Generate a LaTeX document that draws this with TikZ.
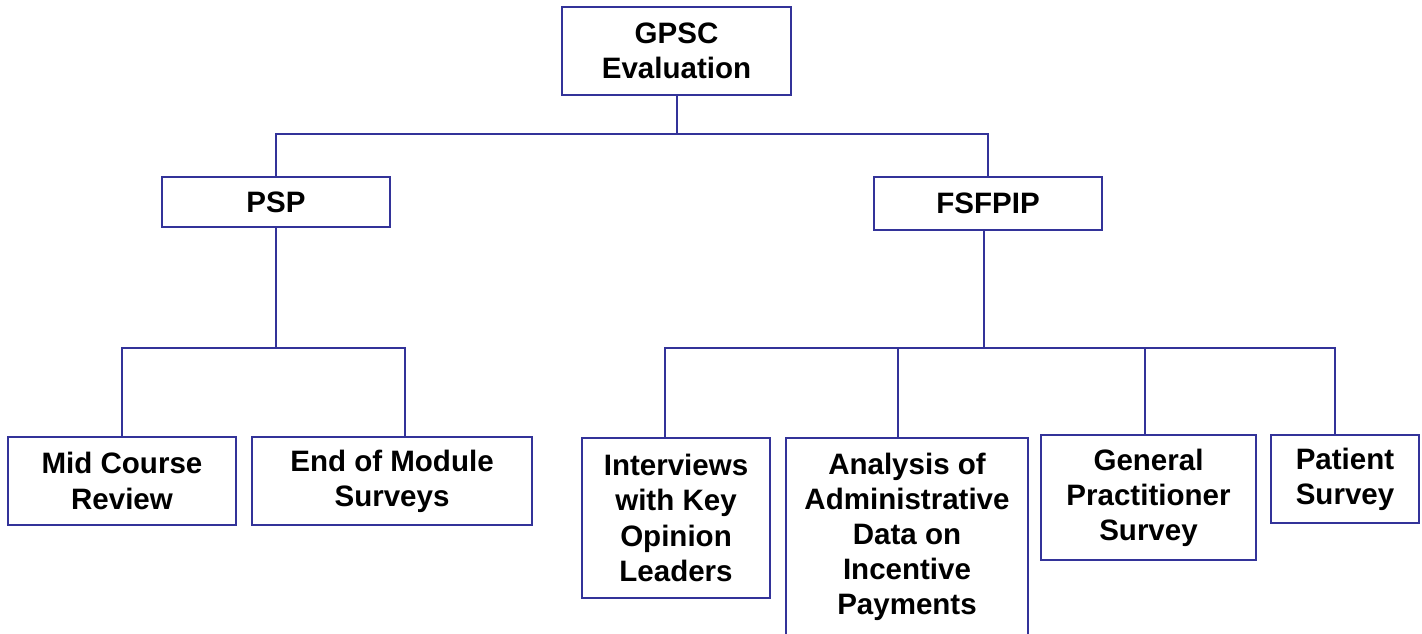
\documentclass[tikz,border=0pt]{standalone}
\usepackage{fontspec}
\setmainfont{Liberation Sans}
\usetikzlibrary{positioning}

\definecolor{linkblue}{RGB}{51,51,153}

\tikzset{
  box/.style={draw=linkblue, line width=0.04cm, inner sep=0pt, align=center,
    font=\fontsize{16.8}{20}\selectfont\bfseries},
  link/.style={draw=linkblue, line width=0.04cm}
}

\begin{document}
\begin{tikzpicture}
        \useasboundingbox (0,0) rectangle (28.44,-12.66);

        \node[box, minimum width=4.58cm, minimum height=1.76cm] (gpsc) at (13.53, -1.02) {GPSC\\Evaluation};
        \node[box, minimum width=4.56cm, minimum height=1.00cm] (psp) at (5.52, -4.04) {PSP};
        \node[box, minimum width=4.56cm, minimum height=1.06cm] (fsf) at (19.76, -4.07) {FSFPIP};

        \node[box, minimum width=4.56cm, minimum height=1.76cm] (mid) at (2.44, -9.62) {Mid Course\\Review};
        \node[box, minimum width=5.60cm, minimum height=1.76cm] (end) at (7.84, -9.62) {End of Module\\Surveys};

        \node[box, minimum width=3.76cm, minimum height=3.20cm] (int) at (13.52, -10.36) {Interviews\\with Key\\Opinion\\Leaders};
        \node[box, minimum width=4.84cm, minimum height=3.96cm] (ana) at (18.14, -10.74) {Analysis of\\Administrative\\Data on\\Incentive\\Payments};
        \node[box, minimum width=4.30cm, minimum height=2.50cm] (gp) at (22.97, -9.95) {General\\Practitioner\\Survey};
        \node[box, minimum width=2.96cm, minimum height=1.76cm] (pat) at (26.90, -9.58) {Patient\\Survey};

        \coordinate (topbar) at ([yshift=-0.76cm]gpsc.south);
        \coordinate (pspbar) at ([yshift=-2.40cm]psp.south);
        \coordinate (fsfbar) at ([xshift=-0.08cm, yshift=-2.34cm]fsf.south);

        \draw[link] (gpsc.south) -- (topbar) -| (psp.north);
        \draw[link] (topbar) -| (fsf.north);

        \draw[link] (psp.south) -- (pspbar) -| (mid.north);
        \draw[link] (pspbar) -| ([xshift=0.26cm]end.north);

        \draw[link] ([xshift=-0.08cm]fsf.south) -- (fsfbar) -| ([xshift=-0.22cm]int.north);
        \draw[link] (fsfbar) -| ([xshift=-0.18cm]ana.north);
        \draw[link] (fsfbar) -| ([xshift=-0.07cm]gp.north);
        \draw[link] (fsfbar) -| ([xshift=-0.20cm]pat.north);
    \end{tikzpicture}
\end{document}
